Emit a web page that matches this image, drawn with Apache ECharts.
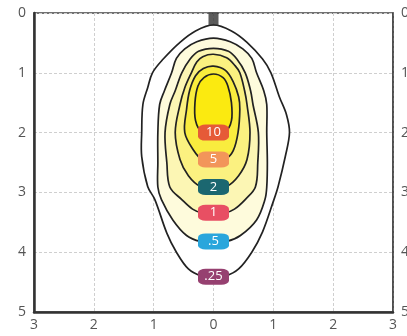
<!DOCTYPE html>
<html><head><meta charset="utf-8">
<script src="https://cdn.jsdelivr.net/npm/echarts@6/dist/echarts.min.js"></script>
<style>html,body{margin:0;padding:0;background:#fff}#c{width:407px;height:336px}</style>
</head><body><div id="c"></div>
<script>
// Axis ticks
var xTicks = [-3, -2, -1, 0, 1, 2, 3];
var yTicks = [0, 1, 2, 3, 4, 5];

// Contour levels (outer to inner) and their label positions (depth)
var levels = ['.25', '.5', '1', '2', '5', '10'];
var labelDepth = [4.41, 3.82, 3.34, 2.91, 2.45, 2.0];
var labelColors = ['#964070', '#2aa6dc', '#e84f63', '#1b6770', '#f2955a', '#e65a37'];
var fillColors = ['#ffffff', '#fefbdc', '#fcf6b4', '#fbf180', '#f9ec3e', '#fbea10'];

// Contour outlines [x, depth]
var contour025 = [[0,0.2],[0.3,0.3],[0.56,0.49],[0.82,0.77],[0.96,1.0],[1.1,1.4],[1.22,1.7],[1.27,2.0],[1.2,2.4],[1.08,2.9],[1.0,3.15],[0.82,3.66],[0.64,4.0],[0.42,4.28],[0.2,4.4],[0,4.42],[-0.2,4.4],[-0.42,4.28],[-0.62,4.0],[-0.78,3.68],[-0.98,3.12],[-1.1,2.9],[-1.2,2.4],[-1.2,2.0],[-1.18,1.53],[-1.1,1.25],[-1.02,1.0],[-0.84,0.77],[-0.56,0.49],[-0.3,0.3]];
var contour05 = [[0,0.42],[0.28,0.48],[0.49,0.6],[0.64,0.76],[0.72,1.0],[0.84,1.3],[0.89,1.53],[0.89,2.0],[0.9,2.5],[0.89,2.91],[0.86,3.12],[0.72,3.46],[0.45,3.72],[0.22,3.82],[0,3.83],[-0.22,3.82],[-0.45,3.72],[-0.68,3.46],[-0.87,3.12],[-0.93,2.91],[-0.93,2.5],[-0.93,2.0],[-0.9,1.53],[-0.82,1.3],[-0.7,1.0],[-0.62,0.76],[-0.48,0.6],[-0.28,0.48]];
var contour1 = [[0,0.59],[0.25,0.64],[0.39,0.77],[0.53,1.0],[0.62,1.3],[0.66,1.53],[0.75,2.0],[0.74,2.5],[0.7,2.91],[0.53,3.12],[0.35,3.28],[0.2,3.34],[0,3.35],[-0.2,3.34],[-0.35,3.28],[-0.53,3.12],[-0.73,2.91],[-0.78,2.5],[-0.81,2.0],[-0.73,1.53],[-0.64,1.3],[-0.53,1.0],[-0.39,0.77],[-0.25,0.64]];
var contour2 = [[0,0.69],[0.22,0.75],[0.36,0.88],[0.44,1.0],[0.52,1.3],[0.56,1.53],[0.61,2.0],[0.56,2.45],[0.42,2.72],[0.22,2.9],[0,2.92],[-0.22,2.9],[-0.42,2.72],[-0.56,2.45],[-0.64,2.0],[-0.56,1.53],[-0.48,1.25],[-0.37,1.0],[-0.28,0.82],[-0.18,0.73]];
var contour5 = [[0,0.89],[0.2,0.96],[0.33,1.15],[0.42,1.4],[0.44,1.61],[0.41,2.0],[0.33,2.3],[0.2,2.44],[0,2.46],[-0.2,2.44],[-0.33,2.3],[-0.48,2.0],[-0.45,1.61],[-0.4,1.3],[-0.3,1.05],[-0.17,0.93]];
var contour10 = [[0,1.02],[0.16,1.08],[0.24,1.22],[0.3,1.5],[0.3,1.8],[0.2,1.98],[0,2.0],[-0.2,1.98],[-0.3,1.8],[-0.31,1.5],[-0.26,1.22],[-0.16,1.08]];
var contours = [contour025, contour05, contour1, contour2, contour5, contour10];

// Luminaire position
var lamp = [[0, 0.1]];

var chart = echarts.init(document.getElementById('c'), null, {renderer: 'canvas'});

var series = contours.map(function (pts, i) {
  return {
    type: 'custom',
    coordinateSystem: 'cartesian2d',
    z: 2 + i,
    silent: true,
    data: [[0, 0]],
    renderItem: function (params, api) {
      return {
        type: 'polygon',
        shape: { points: pts.map(function (p) { return api.coord(p); }), smooth: 0.35 },
        style: { fill: fillColors[i], stroke: '#222', lineWidth: 1.7 }
      };
    }
  };
});

series.push({
  type: 'scatter',
  z: 20,
  silent: true,
  symbol: 'roundRect',
  symbolSize: [31, 16],
  data: levels.map(function (t, i) {
    return {
      value: [0, labelDepth[i]],
      itemStyle: { color: labelColors[i], opacity: 1 },
      label: {
        show: true, position: 'inside', formatter: t, color: '#fff',
        fontFamily: 'Open Sans', fontSize: 13, fontWeight: 'normal'
      }
    };
  })
});

series.push({
  type: 'scatter',
  z: 21,
  silent: true,
  symbol: 'rect',
  symbolSize: [10, 13],
  itemStyle: { color: '#333' },
  data: lamp
});

chart.setOption({
  animation: false,
  backgroundColor: '#fff',
  grid: { left: 34, right: 14, top: 13, bottom: 24, outerBoundsMode: 'none', containLabel: false,
    show: true, borderColor: '#444', borderWidth: 1.5, backgroundColor: 'transparent' },
  xAxis: {
    type: 'value', min: -3, max: 3, interval: 1,
    axisLine: { show: true, onZero: false, lineStyle: { color: '#333', width: 2.5 } },
    axisTick: { show: false },
    axisLabel: { color: '#555', fontSize: 14, fontFamily: 'Open Sans', margin: 6,
      formatter: function (v) { return xTicks.indexOf(v) >= 0 ? String(Math.abs(v)) : ''; } },
    splitLine: { show: true, lineStyle: { color: '#cfcfcf', type: [3, 2], width: 1 } }
  },
  yAxis: [{
    type: 'value', min: 0, max: 5, interval: 1, inverse: true, position: 'left',
    axisLine: { show: true, onZero: false, lineStyle: { color: '#333', width: 2.5 } },
    axisTick: { show: false },
    axisLabel: { color: '#555', fontSize: 14, fontFamily: 'Open Sans', margin: 8,
      formatter: function (v) { return yTicks.indexOf(v) >= 0 ? String(v) : ''; } },
    splitLine: { show: true, lineStyle: { color: '#cfcfcf', type: [3, 2], width: 1 } }
  }, {
    type: 'value', min: 0, max: 5, interval: 1, inverse: true, position: 'right',
    axisLine: { show: true, onZero: false, lineStyle: { color: '#444', width: 1.5 } },
    axisTick: { show: false },
    axisLabel: { color: '#555', fontSize: 14, fontFamily: 'Open Sans', margin: 8,
      formatter: function (v) { return yTicks.indexOf(v) >= 0 ? String(v) : ''; } },
    splitLine: { show: false }
  }],
  series: series
});
</script>
</body></html>
